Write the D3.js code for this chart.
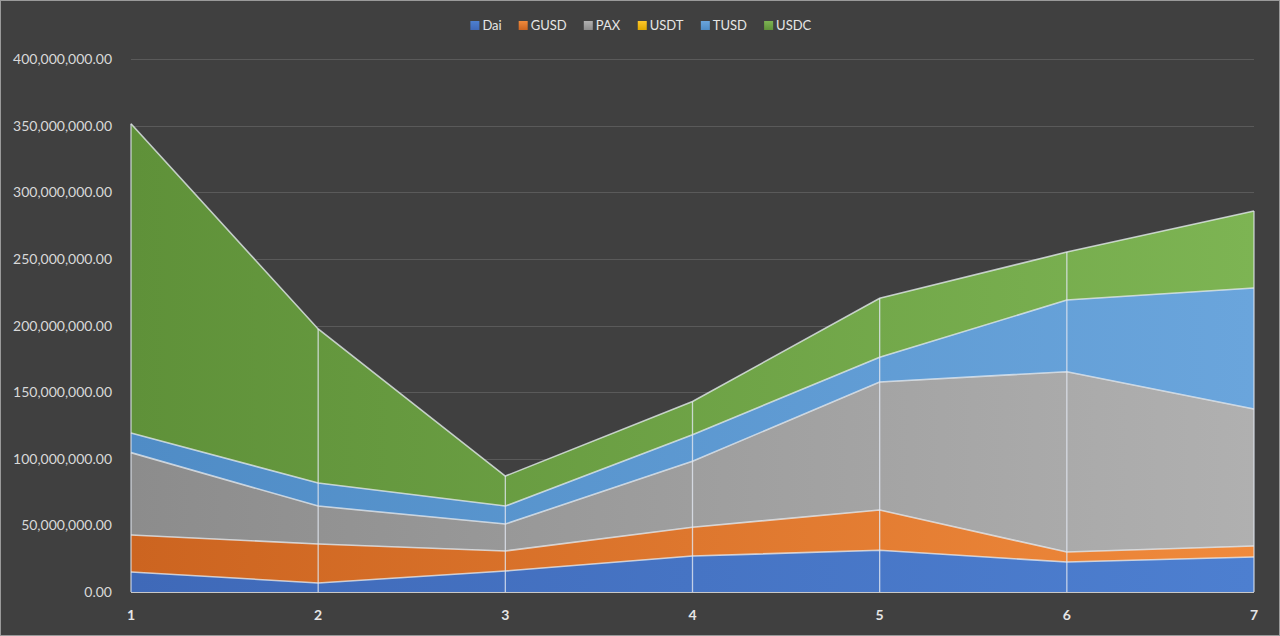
<!DOCTYPE html>
<html><head><meta charset="utf-8">
<script src="https://cdn.jsdelivr.net/npm/d3@7"></script>
<style>html,body{margin:0;padding:0;background:#404040;}svg{display:block;}</style>
</head><body><svg id="c" width="1280" height="636"></svg>
<script>
const categories = [1, 2, 3, 4, 5, 6, 7];
const seriesNames = ["Dai", "GUSD", "PAX", "USDT", "TUSD", "USDC"];
const dai  = [15.0, 6.8, 15.8, 27.0, 31.3, 22.5, 26.3];
const gusd = [27.8, 29.2, 15.0, 21.6, 30.2, 7.5, 8.2];
const pax  = [61.8, 28.5, 20.2, 49.5, 96.1, 135.3, 102.8];
const usdt = [0, 0, 0, 0, 0, 0, 0];
const tusd = [14.8, 17.3, 13.5, 20.0, 18.6, 53.8, 90.8];
const usdc = [232.0, 115.6, 22.5, 24.9, 44.2, 36.0, 57.8];
const yTicks = [0, 50, 100, 150, 200, 250, 300, 350, 400];
const colorsDark  = ["#3f69b8", "#cc6420", "#8c8c8c", "#e0a800", "#4f8cc6", "#5f9139"];
const colorsLight = ["#4d7fd0", "#f08a3c", "#b0b0b0", "#ffc82a", "#6aa5dc", "#7db453"];

const svg = d3.select("#c");
const W = 1280, H = 636;
svg.append("rect").attr("x",0.5).attr("y",0.5).attr("width",W-1).attr("height",H-1)
  .attr("fill","#404040").attr("stroke","#9a9a9a").attr("stroke-width",1);

const m = {left:131, right:1254, top:59, bottom:592};
const x = d3.scaleLinear().domain([1,7]).range([m.left, m.right]);
const y = d3.scaleLinear().domain([0,400]).range([m.bottom, m.top]);

const defs = svg.append("defs");
seriesNames.forEach((n,i)=>{
  const g = defs.append("linearGradient").attr("id","g"+i)
    .attr("gradientUnits","userSpaceOnUse").attr("x1",m.left).attr("x2",m.right).attr("y1",0).attr("y2",0);
  g.append("stop").attr("offset","0").attr("stop-color",colorsDark[i]);
  g.append("stop").attr("offset","1").attr("stop-color",colorsLight[i]);
  const gl = defs.append("linearGradient").attr("id","gl"+i).attr("x1",0).attr("x2",0).attr("y1",0).attr("y2",1);
  gl.append("stop").attr("offset","0").attr("stop-color",colorsLight[i]);
  gl.append("stop").attr("offset","1").attr("stop-color",colorsDark[i]);
});

// grid
svg.append("g").selectAll("line").data(yTicks).join("line")
  .attr("x1",m.left).attr("x2",m.right)
  .attr("y1",d=>Math.round(y(d))+0.5).attr("y2",d=>Math.round(y(d))+0.5)
  .attr("stroke","#5a5a5a").attr("stroke-width",1);

// y labels
const fmt = d3.format(",.2f");
svg.append("g").selectAll("text").data(yTicks).join("text")
  .attr("x",112).attr("y",d=>y(d)+5).attr("text-anchor","end")
  .attr("font-family","Lato, 'Open Sans', sans-serif").attr("font-size",14)
  .attr("fill","#d9d9d9").text(d=>fmt(d*1e6));

// stack
const table = categories.map((c,i)=>({cat:c, Dai:dai[i], GUSD:gusd[i], PAX:pax[i], USDT:usdt[i], TUSD:tusd[i], USDC:usdc[i]}));
const stack = d3.stack().keys(seriesNames)(table);
const area = d3.area().x(d=>x(d.data.cat)).y0(d=>y(d[0])).y1(d=>y(d[1]));
const line = d3.line().x(d=>x(d.data.cat)).y(d=>y(d[1]));

svg.append("g").selectAll("path").data(stack).join("path")
  .attr("d",area).attr("fill",(d,i)=>`url(#g${i})`);
svg.append("g").selectAll("path").data(stack.filter(s=>s.key!=="USDT")).join("path")
  .attr("d",line).attr("fill","none")
  .attr("stroke","rgba(235,240,245,0.75)").attr("stroke-width",1.6);

// drop lines
const topSeries = stack[stack.length-1];
svg.append("g").selectAll("line").data(topSeries).join("line")
  .attr("x1",d=>x(d.data.cat)).attr("x2",d=>x(d.data.cat))
  .attr("y1",d=>y(d[1])).attr("y2",y(0))
  .attr("stroke","rgba(225,230,240,0.8)").attr("stroke-width",1.3);

// baseline
svg.append("line").attr("x1",m.left).attr("x2",m.right).attr("y1",y(0)+0.5).attr("y2",y(0)+0.5)
  .attr("stroke","#c8c8c8").attr("stroke-width",1.2);

// x labels
svg.append("g").selectAll("text").data(categories).join("text")
  .attr("x",d=>x(d)).attr("y",620).attr("text-anchor","middle")
  .attr("font-family","Lato, 'Open Sans', sans-serif").attr("font-size",14).attr("font-weight","bold")
  .attr("fill","#e6e6e6").text(d=>d);

// legend
const lg = svg.append("g");
const items = lg.selectAll("g").data(seriesNames).join("g");
items.append("rect").attr("width",9).attr("height",9).attr("y",-8).attr("fill",(d,i)=>`url(#gl${i})`);
items.append("text").attr("x",12).attr("y",0.5)
  .attr("font-family","Lato, 'Open Sans', sans-serif").attr("font-size",13)
  .attr("fill","#e6e6e6").text(d=>d);
let widths = [];
items.each(function(){ widths.push(this.getBBox().width); });
const gap = 17;
const total = d3.sum(widths) + gap*(widths.length-1);
let cx = 641 - total/2;
items.attr("transform",(d,i)=>{ const t=`translate(${cx},29)`; cx += widths[i]+gap; return t; });
</script></body></html>
